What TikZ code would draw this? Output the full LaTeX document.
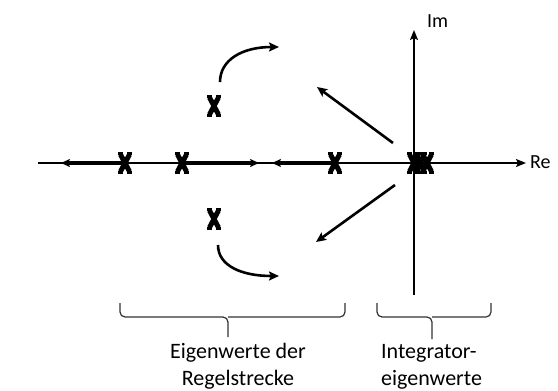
\documentclass[tikz,border=0pt]{standalone}
\usepackage{fontspec}
\setmainfont{Carlito}
\usetikzlibrary{arrows.meta}

\tikzset{
  axis/.style={line width=1.5pt, -{Stealth[length=10pt,width=8pt,inset=2pt]}},
  locus/.style={line width=3.2pt, -{Stealth[length=9pt,width=8pt,inset=2pt]}, shorten >=-1pt},
  move/.style={line width=2.6pt, -{Stealth[length=10pt,width=9pt,inset=2pt]}},
  brace/.style={line width=1.2pt, draw=black!80, rounded corners=5pt},
  pole/.pic={
    \draw[line width=5pt] (-4.5,-8.5) -- (4.5,8.5) (4.5,-8.5) -- (-4.5,8.5);
    \draw[line width=3.5pt] (-7,-9.5) -- (-2,-9.5) (2,-9.5) -- (7,-9.5)
                            (-7,9.5) -- (-2,9.5) (2,9.5) -- (7,9.5);
  },
  lbl/.style={font=\fontsize{22}{28}\selectfont, inner sep=0pt},
  axlbl/.style={font=\fontsize{20}{24}\selectfont, inner sep=0pt}
}

\begin{document}
\begin{tikzpicture}[x=1pt,y=-1pt]
\useasboundingbox (0,0) rectangle (558,391);

% axes
\coordinate (reL) at (38,163);
\coordinate (reR) at (526,163);
\coordinate (imB) at (414,295);
\coordinate (imT) at (414,30);
\draw[axis] (reL) -- (reR);
\draw[axis] (imB) -- (imT);
\node[axlbl, anchor=base west] (re) at (530,168) {Re};
\node[axlbl, anchor=base west] (im) at (427,27) {Im};

% open-loop poles of the plant
\coordinate (p1) at (125,163);
\coordinate (p2) at (182,163);
\coordinate (p3) at (335,163);
\coordinate (pu) at (214,106);
\coordinate (pl) at (214,219);
% integrator poles at the origin
\coordinate (o1) at (414,163);
\coordinate (o2) at (420,163);
\coordinate (o3) at (427,163);

% branch targets
\coordinate (t1) at (62,163);
\coordinate (t2) at (258,163);
\coordinate (t3) at (273,163);
\coordinate (su) at (220,82);
\coordinate (tu) at (279,47);
\coordinate (sl) at (218,245);
\coordinate (tl) at (279,276);
\coordinate (du0) at (393,143);
\coordinate (du1) at (317,87);
\coordinate (dl0) at (395,185);
\coordinate (dl1) at (316,242);

% branches along the real axis
\draw[locus] (p1) -- (t1);
\draw[locus] (p2) -- (t2);
\draw[locus] (p3) -- (t3);

% branches of the complex pole pair
\draw[move] (su) .. controls (220,60) and (242,47) .. (tu);
\draw[move] (sl) .. controls (218,266) and (242,276) .. (tl);

% branches leaving the origin
\draw[move] (du0) -- (du1);
\draw[move] (dl0) -- (dl1);

% pole markers
\foreach \p in {p1,p2,p3,pu,pl,o1,o2,o3} \pic at (\p) {pole};

% braces
\coordinate (bl0) at (120,303);
\coordinate (bl1) at (345,303);
\coordinate (blm) at (228,337);
\coordinate (br0) at (377,303);
\coordinate (br1) at (491,303);
\coordinate (brm) at (432,339);
\draw[brace] (bl0) -- (bl0 |- 0,317) -- (blm |- 0,317) -- (blm);
\draw[brace] (bl1) -- (bl1 |- 0,317) -- (blm |- 0,317);
\draw[brace] (br0) -- (br0 |- 0,317) -- (brm |- 0,317) -- (brm);
\draw[brace] (br1) -- (br1 |- 0,317) -- (brm |- 0,317);

% labels
\node[lbl, anchor=base] (eg1) at (238,358) {Eigenwerte der};
\node[lbl, anchor=base] (eg2) at (238,385) {Regelstrecke};
\node[lbl, anchor=base west] (in1) at (381,358) {Integrator-};
\node[lbl, anchor=base west] (in2) at (381,385) {eigenwerte};
\end{tikzpicture}
\end{document}
